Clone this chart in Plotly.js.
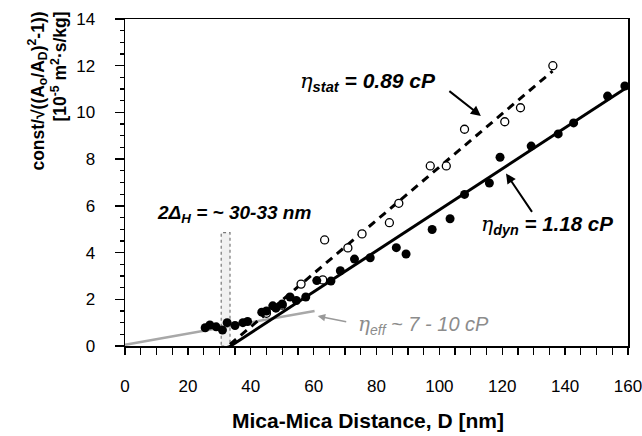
<!DOCTYPE html>
<html>
<head>
<meta charset="utf-8">
<script src="https://cdn.plot.ly/plotly-3.0.1.min.js"></script>
<style>html,body{margin:0;padding:0;background:#fff;}</style>
</head>
<body>
<div id="chart" style="width:642px;height:436px;"></div>
<script>
// Dynamic (filled) data
const dynD = [25.5, 27, 29, 31, 32.5, 35, 37.5, 39, 43.5, 45, 47, 48, 50, 52.5, 54.5, 57.5, 61, 65.5, 68.5, 73, 78, 86.3, 89.4, 97.7, 103.4, 108, 115.9, 119.3, 129.2, 137.8, 142.7, 153.5, 159];
const dynV = [0.78, 0.9, 0.82, 0.68, 1.0, 0.88, 1.0, 1.05, 1.45, 1.5, 1.72, 1.62, 1.8, 2.1, 1.95, 2.1, 2.8, 2.78, 3.22, 3.72, 3.78, 4.21, 3.94, 4.99, 5.45, 6.49, 6.98, 8.08, 8.56, 9.08, 9.55, 10.7, 11.13];
// Static (open) data
const statD = [45, 50, 56, 62.9, 63.5, 70.9, 75.4, 84.1, 87.1, 97.1, 102.2, 108, 120.8, 125.8, 136.1];
const statV = [1.4, 1.75, 2.65, 2.83, 4.54, 4.2, 4.8, 5.28, 6.11, 7.71, 7.71, 9.28, 9.6, 10.2, 12.0];
// Fit lines (end points)
const dynFitD = [28.5, 160];
const dynFitV = [-0.45, 11.1];
const statFitD = [30, 136];
const statFitV = [-0.32, 11.77];
const effFitD = [0, 60.3];
const effFitV = [0.05, 1.5];
// Axis ticks
const xTicks = [0, 20, 40, 60, 80, 100, 120, 140, 160];
const yTicks = [0, 2, 4, 6, 8, 10, 12, 14];

const FONT = "Liberation Sans, Arial, sans-serif";
const ETA = (s) => '<span style="font-family:\'DejaVu Serif\',serif;font-weight:normal">η</span>' + '<sub>' + s + '</sub>';

const traces = [
  {x: effFitD, y: effFitV, mode: 'lines', line: {color: '#a8a8a8', width: 2.5}, hoverinfo: 'skip'},
  {x: statFitD, y: statFitV, mode: 'lines', line: {color: '#000', width: 3, dash: '8px,6px'}, hoverinfo: 'skip'},
  {x: dynFitD, y: dynFitV, mode: 'lines', line: {color: '#000', width: 3}, hoverinfo: 'skip'},
  {x: statD, y: statV, mode: 'markers', marker: {symbol: 'circle', size: 8, color: '#fff', line: {color: '#000', width: 1.3}}, cliponaxis: false},
  {x: dynD, y: dynV, mode: 'markers', marker: {symbol: 'circle', size: 9, color: '#000', line: {width: 0}}, cliponaxis: false}
];

const layout = {
  width: 642, height: 436,
  margin: {l: 125, r: 14, t: 19, b: 90},
  paper_bgcolor: '#fff', plot_bgcolor: '#fff',
  showlegend: false,
  font: {family: FONT, size: 17, color: '#000'},
  xaxis: {
    range: [0, 160], tickvals: xTicks, ticktext: xTicks.map(String),
    ticks: 'outside', ticklen: 7, tickwidth: 1.3, tickcolor: '#000',
    minor: {dtick: 5, ticks: 'outside', ticklen: 7, tickwidth: 1.3, tickcolor: '#000'},
    showline: true, linecolor: '#000', linewidth: 1.5, mirror: true,
    showgrid: false, zeroline: false, ticklabelstandoff: 17,
    ticklabeloverflow: 'allow',
    tickfont: {family: FONT, size: 17}
  },
  yaxis: {
    range: [0, 14], tickvals: yTicks, ticktext: yTicks.map(String),
    ticks: 'outside', ticklen: 9, tickwidth: 1.3, tickcolor: '#000',
    minor: {dtick: 0.5, ticks: 'outside', ticklen: 4, tickwidth: 1.3, tickcolor: '#000'},
    showline: true, linecolor: '#000', linewidth: 1.5, mirror: true,
    showgrid: false, zeroline: false, ticklabelstandoff: 16,
    ticklabeloverflow: 'allow',
    tickfont: {family: FONT, size: 17}
  },
  shapes: [
    {type: 'rect', xref: 'x', yref: 'y', x0: 30.6, x1: 33.4, y0: 0, y1: 4.85,
     line: {color: '#777', width: 1.2, dash: 'dot'}, fillcolor: 'rgba(210,210,210,0.3)', layer: 'below'}
  ],
  annotations: [
    // Axis titles
    {xref: 'paper', yref: 'paper', x: -0.202, y: 1.03, xanchor: 'left', yanchor: 'top',
     textangle: -90, align: 'right', showarrow: false,
     text: '<b>const/√((A<sub>o</sub>/A<sub>D</sub>)<sup>2</sup>-1))<br>[10<sup>-5</sup> m<sup>2</sup>·s/kg]</b>',
     font: {family: FONT, size: 17.5, color: '#000'}},
    {xref: 'paper', yref: 'paper', x: 0.484, y: -0.229, xanchor: 'center', yanchor: 'middle',
     showarrow: false, text: '<b>Mica-Mica Distance, D [nm]</b>',
     font: {family: FONT, size: 21, color: '#000'}},
    // Labels
    {xref: 'x', yref: 'y', x: 77.2, y: 11.3, xanchor: 'center', yanchor: 'middle', showarrow: false,
     text: '<b><i>' + ETA('stat') + ' = 0.89 cP</i></b>', font: {family: FONT, size: 21, color: '#000'}},
    {xref: 'x', yref: 'y', x: 134.2, y: 5.2, xanchor: 'center', yanchor: 'middle', showarrow: false,
     text: '<b><i>' + ETA('dyn') + ' = 1.18 cP</i></b>', font: {family: FONT, size: 20.5, color: '#000'}},
    {xref: 'x', yref: 'y', x: 34.8, y: 5.65, xanchor: 'center', yanchor: 'middle', showarrow: false,
     text: '<b><i>2Δ<sub>H</sub> = ~ 30-33 nm</i></b>', font: {family: FONT, size: 19, color: '#000'}},
    {xref: 'x', yref: 'y', x: 95, y: 0.9, xanchor: 'center', yanchor: 'middle', showarrow: false,
     text: '<i>' + ETA('eff') + ' ~ 7 - 10 cP</i>', font: {family: FONT, size: 20, color: '#8c8c8c'}},
    // Arrows
    {xref: 'x', yref: 'y', x: 113.2, y: 9.85, ax: -33, ay: -26, text: '', showarrow: true,
     arrowhead: 2, arrowsize: 1, arrowwidth: 2, arrowcolor: '#000', standoff: 0},
    {xref: 'x', yref: 'y', x: 121.2, y: 7.39, ax: 27, ay: 40, text: '', showarrow: true,
     arrowhead: 2, arrowsize: 1, arrowwidth: 2, arrowcolor: '#000', standoff: 0},
    {xref: 'x', yref: 'y', x: 61.3, y: 1.28, ax: 30, ay: 6, text: '', showarrow: true,
     arrowhead: 2, arrowsize: 1, arrowwidth: 1.5, arrowcolor: '#999', standoff: 0}
  ]
};

Plotly.newPlot('chart', traces, layout, {displayModeBar: false, staticPlot: true});
</script>
</body>
</html>
